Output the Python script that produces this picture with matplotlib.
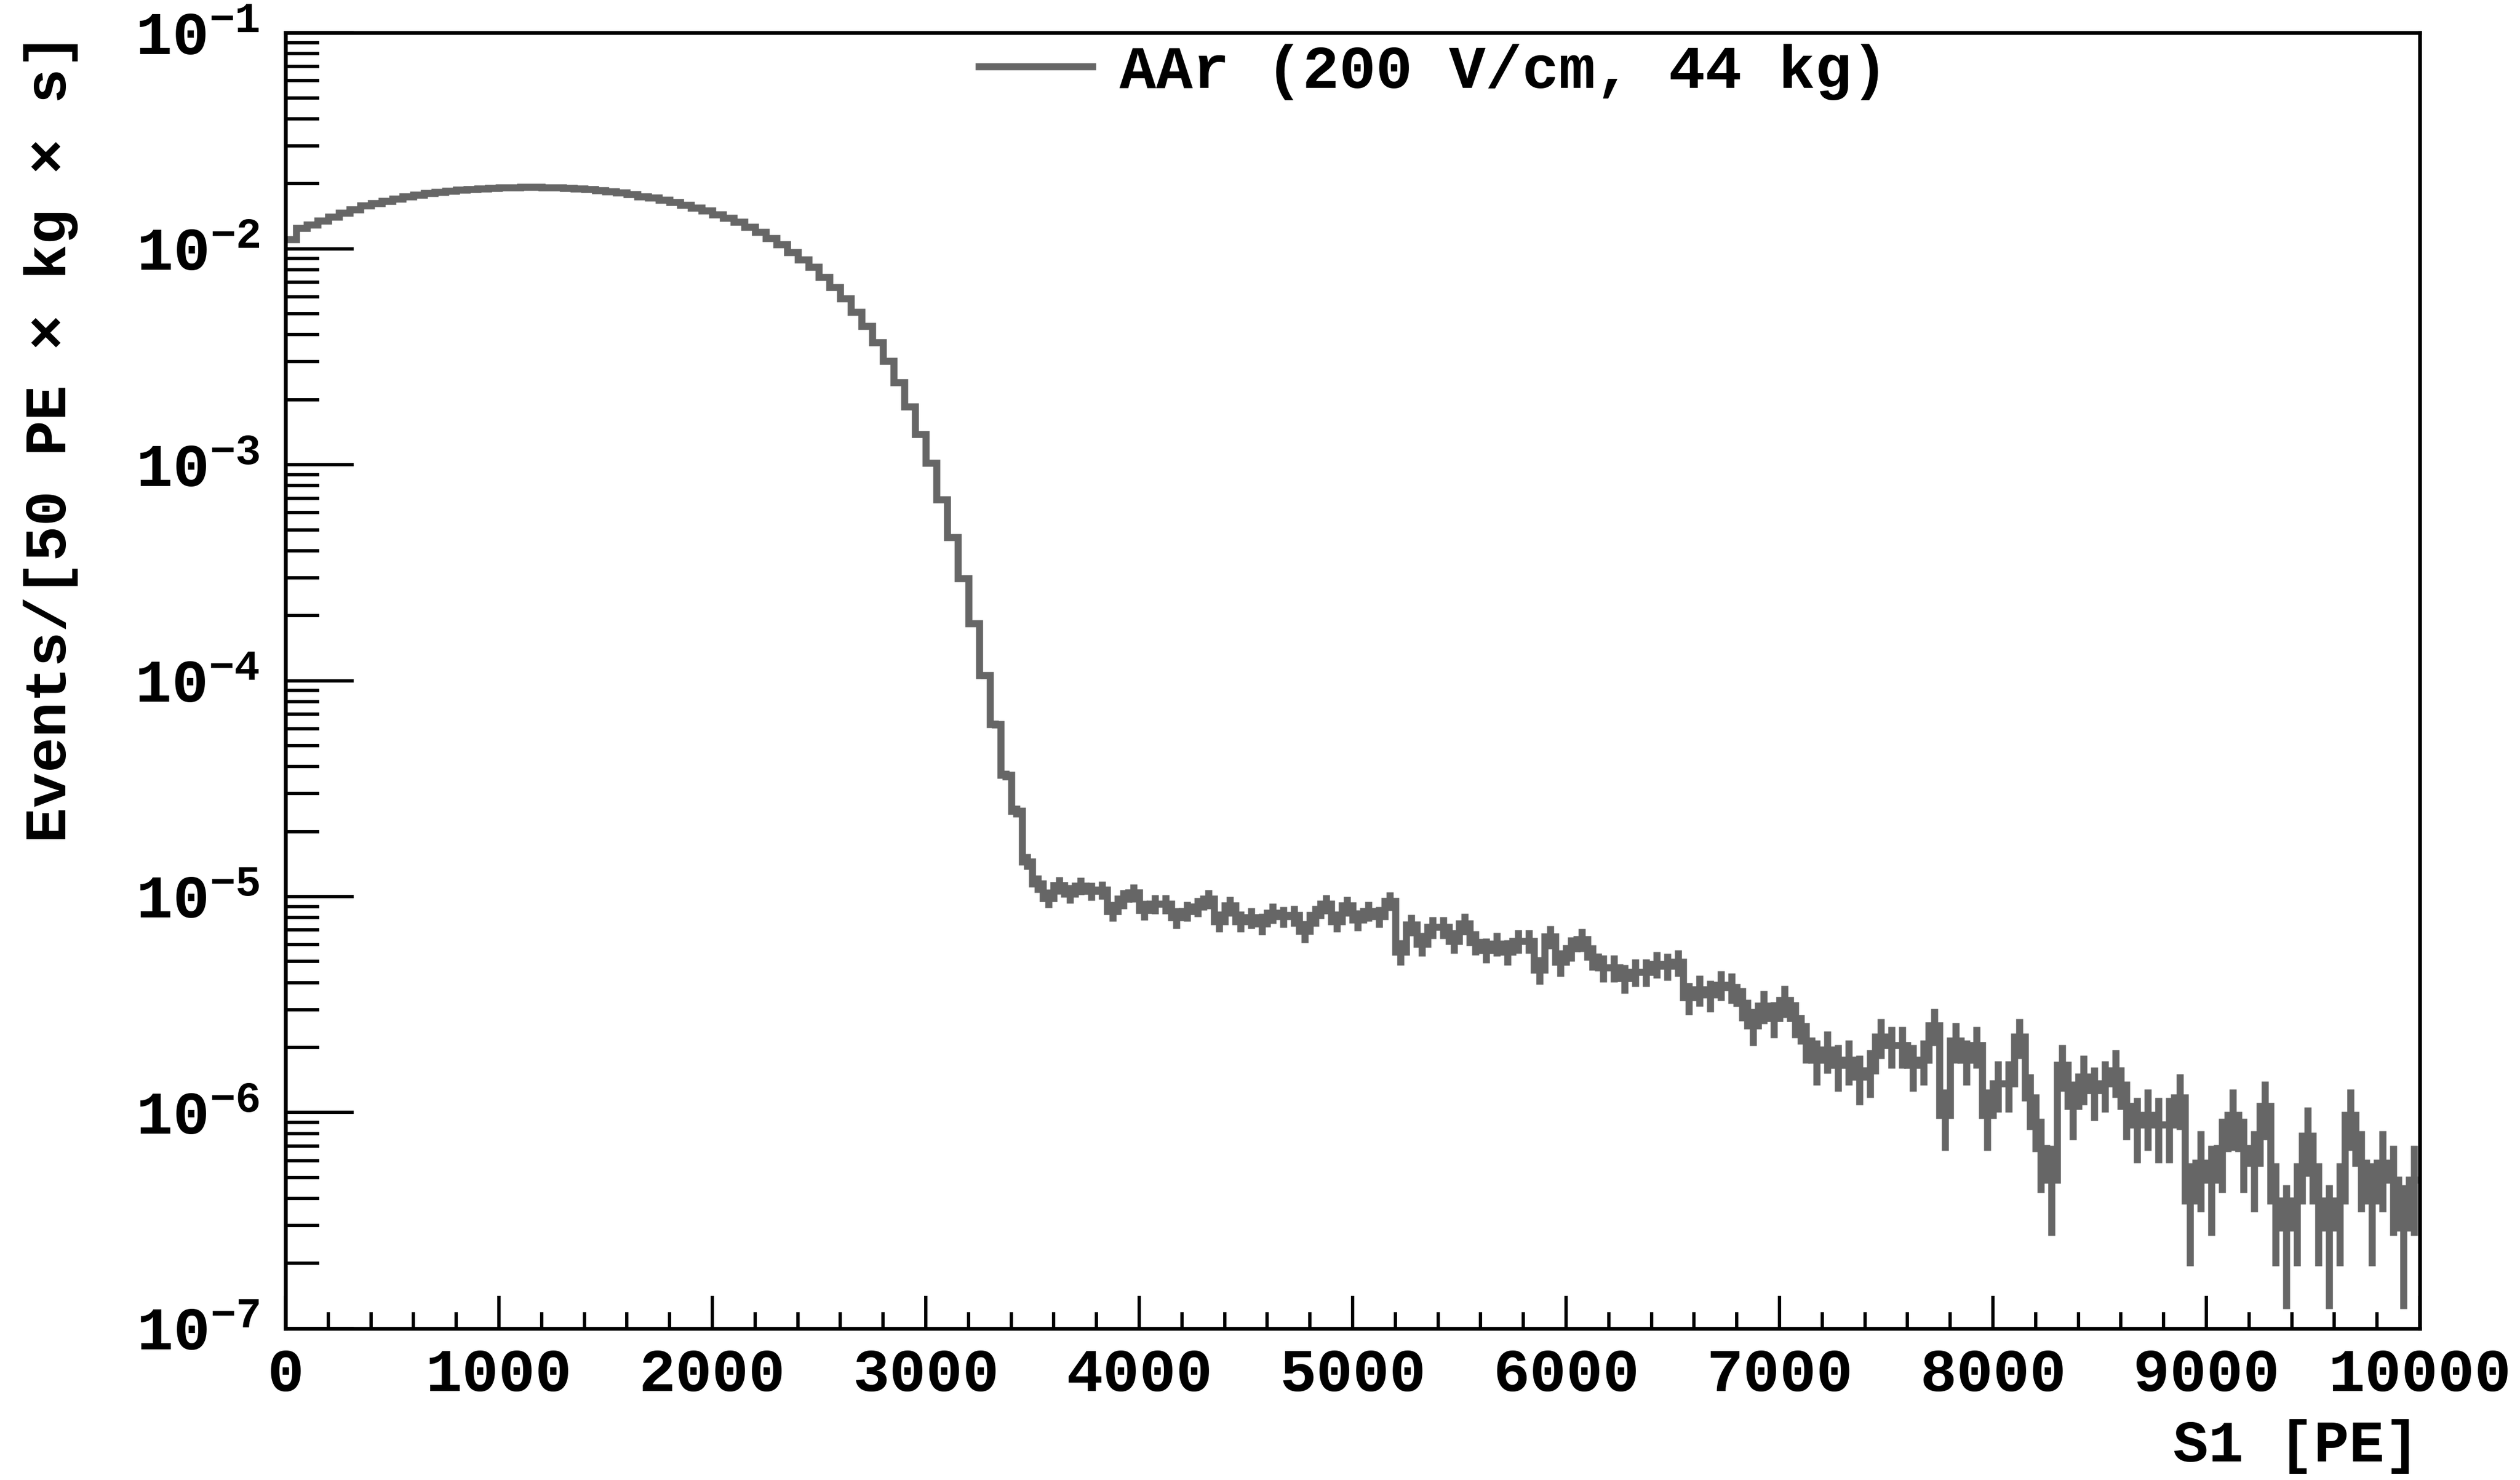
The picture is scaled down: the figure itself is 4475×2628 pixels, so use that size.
import numpy as np
import matplotlib
matplotlib.use("Agg")
import matplotlib.pyplot as plt
from matplotlib.lines import Line2D
from matplotlib.ticker import MultipleLocator, LogLocator, NullFormatter, FuncFormatter

# ==============================
# data: S1 spectrum, 200 bins of 50 PE
# ==============================
bin_width = 50
n_bins = 200

# bins 0-69 (0-3500 PE), events / [50 PE x kg x s]
rate_head = [
    1.104e-2, 1.248e-2, 1.290e-2, 1.346e-2, 1.405e-2, 1.467e-2, 1.523e-2, 1.581e-2, 1.624e-2, 1.668e-2,
    1.704e-2, 1.741e-2, 1.779e-2, 1.808e-2, 1.837e-2, 1.857e-2, 1.877e-2, 1.887e-2, 1.897e-2, 1.907e-2,
    1.917e-2, 1.917e-2, 1.928e-2, 1.928e-2, 1.917e-2, 1.917e-2, 1.907e-2, 1.897e-2, 1.887e-2, 1.867e-2,
    1.847e-2, 1.818e-2, 1.789e-2, 1.750e-2, 1.722e-2, 1.686e-2, 1.641e-2, 1.598e-2, 1.547e-2, 1.498e-2,
    1.443e-2, 1.390e-2, 1.331e-2, 1.262e-2, 1.196e-2, 1.122e-2, 1.046e-2, 9.65e-3, 8.91e-3, 8.22e-3,
    7.38e-3, 6.63e-3, 5.89e-3, 5.10e-3, 4.39e-3, 3.68e-3, 3.02e-3, 2.41e-3, 1.86e-3, 1.386e-3,
    1.021e-3, 6.91e-4, 4.62e-4, 2.98e-4, 1.84e-4, 1.057e-4, 6.29e-5, 3.66e-5, 2.49e-5, 1.455e-5,
]

# bins 70-199 (3500-10000 PE), raw counts
counts_tail = [
    118, 101, 116, 106, 115, 109, 110, 88, 100, 107,
    89, 95, 95, 82, 88, 92, 100, 79, 93, 79,
    82, 77, 86, 83, 84, 71, 84, 95, 79, 93,
    80, 88, 83, 98, 57, 76, 62, 74, 74, 64,
    77, 63, 58, 62, 57, 64, 64, 47, 67, 51,
    59, 65, 54, 48, 48, 43, 46, 46, 50, 49,
    51, 35, 38, 36, 40, 39, 33, 26, 32, 28,
    34, 28, 22, 18, 20, 17, 18, 15, 16, 23,
    21, 21, 17, 18, 26, 10, 22, 18, 21, 10,
    14, 14, 23, 12, 7, 5, 17, 11, 15, 13,
    14, 16, 11, 9, 10, 9, 9, 12, 4, 6,
    5, 7, 10, 7, 6, 11, 4, 3, 4, 8,
    4, 3, 4, 10, 6, 4, 6, 5, 3, 5,
]
rate_per_count = 9.75e-8

legend_label = "AAr (200 V/cm, 44 kg)"
xlabel = "S1 [PE]"
ylabel = "Events/[50 PE \u00d7 kg \u00d7 s]"

color = "#666666"

edges = np.arange(n_bins + 1) * bin_width
centers = edges[:-1] + bin_width / 2
rate = np.concatenate([np.array(rate_head), np.array(counts_tail) * rate_per_count])
err = np.sqrt(rate * rate_per_count)  # poisson

# ==============================
# style
# ==============================
plt.rcParams["font.family"] = ["Liberation Mono", "DejaVu Sans Mono"]
plt.rcParams["font.weight"] = "bold"
plt.rcParams["mathtext.fontset"] = "custom"
plt.rcParams["mathtext.rm"] = "Liberation Mono:bold"
plt.rcParams["mathtext.bf"] = "Liberation Mono:bold"
plt.rcParams["mathtext.it"] = "Liberation Mono:bold"

fig = plt.figure(figsize=(4475 / 300, 2628 / 300), dpi=300)
ax = fig.add_axes([0.1133, 0.1024, 0.8469, 0.8754])

ax.stairs(rate, edges, baseline=None, color=color, linewidth=3.0,
          joinstyle="miter", capstyle="butt")
ax.vlines(centers, rate - err, rate + err, colors=color, linewidth=3.0, capstyle="butt")

ax.set_yscale("log")
ax.set_xlim(0, 10000)
ax.set_ylim(1e-7, 1e-1)

ax.xaxis.set_major_locator(MultipleLocator(1000))
ax.xaxis.set_minor_locator(MultipleLocator(200))
ax.yaxis.set_major_locator(LogLocator(base=10, numticks=20))
ax.yaxis.set_minor_locator(LogLocator(base=10, subs=np.arange(2, 10), numticks=20))
ax.yaxis.set_minor_formatter(NullFormatter())
ax.yaxis.set_major_formatter(FuncFormatter(lambda v, p: r"$10^{%d}$" % round(np.log10(v))))

ax.tick_params(which="both", direction="in", top=False, right=False, width=1.4, color="black")
ax.tick_params(axis="x", which="major", length=14, pad=8, labelsize=26)
ax.tick_params(axis="x", which="minor", length=7)
ax.tick_params(axis="y", which="major", length=29, pad=11, labelsize=26)
ax.tick_params(axis="y", which="minor", length=14.5)

for s in ax.spines.values():
    s.set_linewidth(1.6)
    s.set_color("black")

ax.set_xlabel(xlabel, loc="right", fontsize=25, fontweight="bold")
ax.xaxis.set_label_coords(1.0, -0.07)
ax.set_ylabel(ylabel, loc="top", fontsize=25, fontweight="bold")
ax.yaxis.set_label_coords(-0.097, 1.0)

handle = Line2D([], [], color=color, linewidth=3.0, solid_capstyle="butt")
ax.legend([handle], [legend_label], loc="center left", bbox_to_anchor=(0.3232, 0.9698),
          frameon=False, borderpad=0, borderaxespad=0, handlelength=1.98,
          handletextpad=0.38, prop={"family": "Liberation Mono", "weight": "bold", "size": 26})

fig.savefig("out.png", dpi=300)
